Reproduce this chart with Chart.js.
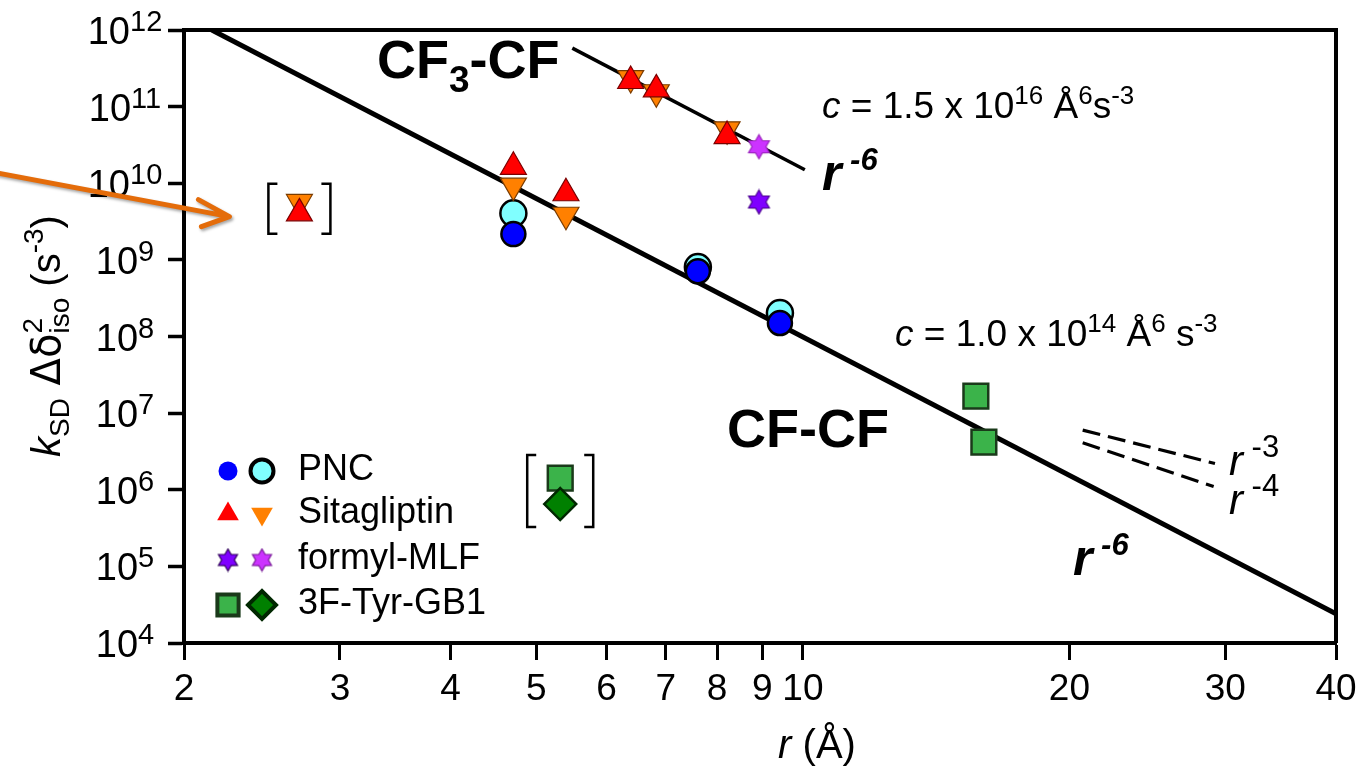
<!DOCTYPE html>
<html>
<head>
<meta charset="utf-8">
<script src="https://cdn.jsdelivr.net/npm/chart.js@4"></script>
<style>
  html, body { margin: 0; padding: 0; background: #fff; }
  #wrap { width: 1365px; height: 768px; }
</style>
</head>
<body>
<div id="wrap"><canvas id="chart" width="1365" height="768"></canvas></div>
<script>
// r (Å) and k_SD * dd_iso^2 (s^-3)
const pncBlueR = [4.71, 7.61, 9.42];
const pncBlueK = [2.17e9, 7.1e8, 1.5e8];
const pncCyanR = [4.71, 7.61, 9.42];
const pncCyanK = [4.05e9, 8.06e8, 2.02e8];
const sitaRedR = [2.70, 4.71, 5.40, 6.39, 6.83, 8.21];
const sitaRedK = [4.05e9, 1.64e10, 7.4e9, 2.16e11, 1.68e11, 4.13e10];
const sitaOrangeR = [2.70, 4.71, 5.40, 6.39, 6.83, 8.21];
const sitaOrangeK = [5.7e9, 9.3e9, 3.88e9, 2.36e11, 1.54e11, 5.06e10];
const mlfPurpleR = [8.92];
const mlfPurpleK = [5.7e9];
const mlfMagentaR = [8.92];
const mlfMagentaK = [3.0e10];
const gb1SquareR = [5.32, 15.68, 16.01];
const gb1SquareK = [1.42e6, 1.67e7, 4.18e6];
const gb1DiamondR = [5.32];
const gb1DiamondK = [6.5e5];

// guide lines (end points)
const cfcfLineR = [2.15, 40];
const cfcfLineK = [1.0e12, 2.4e4];
const cf3LineR = [5.49, 10.05];
const cf3LineK = [5.8e11, 1.5e10];
const r3LineR = [20.7, 29.2];
const r3LineK = [6.0e6, 2.2e6];
const r4LineR = [20.7, 29.1];
const r4LineK = [4.1e6, 1.1e6];

const xTicks = [2, 3, 4, 5, 6, 7, 8, 9, 10, 20, 30, 40];
const yTickExps = [4, 5, 6, 7, 8, 9, 10, 11, 12];
const legendNames = ['PNC', 'Sitagliptin', 'formyl-MLF', '3F-Tyr-GB1'];

const FONT = '"Liberation Sans", Arial, Helvetica, sans-serif';

function pts(xs, ys) {
    return xs.map(function(x, i) { return { x: x, y: ys[i] }; });
}

// six pointed star as an image point style
function makeStar(fill, stroke, size) {
    const c = document.createElement('canvas');
    c.width = size; c.height = size;
    const g = c.getContext('2d');
    const cx = size / 2, cy = size / 2, R = size / 2 - 1.5, r = R * 0.58;
    g.beginPath();
    for (let i = 0; i < 12; i++) {
        const a = -Math.PI / 2 + i * Math.PI / 6;
        const rr = i % 2 === 0 ? R : r;
        const px = cx + rr * Math.cos(a), py = cy + rr * Math.sin(a);
        if (i === 0) g.moveTo(px, py); else g.lineTo(px, py);
    }
    g.closePath();
    g.fillStyle = fill;
    g.fill();
    g.lineWidth = 1.2;
    g.strokeStyle = stroke;
    g.stroke();
    return c;
}

const starPurple = makeStar('#7F00FF', '#4B0090', 27);
const starMagenta = makeStar('#CC33FF', '#9922BB', 27);
const starPurpleSm = makeStar('#7F00FF', '#30005A', 25);
const starMagentaSm = makeStar('#CC33FF', '#7A1C99', 25);

const styles = {
    blue:    { pointStyle: 'circle', radius: 12, bg: '#0000FF', border: '#000', bw: 2.5, rot: 0 },
    cyan:    { pointStyle: 'circle', radius: 13, bg: '#80FFFF', border: '#000', bw: 2.5, rot: 0 },
    red:     { pointStyle: 'triangle', radius: 15, bg: '#FF0000', border: '#7A0000', bw: 1.2, rot: 0 },
    orange:  { pointStyle: 'triangle', radius: 15, bg: '#FF8000', border: '#7A3C00', bw: 1.2, rot: 180 },
    purple:  { pointStyle: starPurple, radius: 13, bg: '#7F00FF', border: '#000', bw: 0, rot: 0 },
    magenta: { pointStyle: starMagenta, radius: 13, bg: '#CC33FF', border: '#000', bw: 0, rot: 0 },
    square:  { pointStyle: 'rect', radius: 17.5, bg: '#3BB34A', border: '#1A3A1A', bw: 2.5, rot: 0 },
    diamond: { pointStyle: 'rectRot', radius: 16, bg: '#008000', border: '#002800', bw: 2.5, rot: 0 }
};

function scatterSet(label, xs, ys, s) {
    return {
        label: label,
        data: pts(xs, ys),
        showLine: false,
        pointStyle: s.pointStyle,
        pointRadius: s.radius,
        pointHoverRadius: s.radius,
        pointRotation: s.rot,
        backgroundColor: s.bg,
        borderColor: s.border,
        borderWidth: s.bw
    };
}

function lineSet(label, xs, ys, width, dash) {
    return {
        label: label,
        data: pts(xs, ys),
        showLine: true,
        pointRadius: 0,
        borderColor: '#000',
        borderWidth: width,
        borderDash: dash || [],
        fill: false
    };
}

// draws pieces of text one after another: [text, font, dy]
function runs(ctx, parts, x, y, align) {
    let total = 0;
    parts.forEach(function(p) { ctx.font = p[1]; total += ctx.measureText(p[0]).width; });
    let cx = x;
    if (align === 'center') cx = x - total / 2;
    if (align === 'right') cx = x - total;
    ctx.textAlign = 'left';
    ctx.textBaseline = 'alphabetic';
    parts.forEach(function(p) {
        ctx.font = p[1];
        ctx.fillText(p[0], cx, y + (p[2] || 0));
        cx += ctx.measureText(p[0]).width;
    });
    return total;
}

function marker(ctx, s, x, y, radius, bw) {
    ctx.save();
    ctx.fillStyle = s.bg;
    ctx.strokeStyle = s.border;
    const opts = { pointStyle: s.pointStyle, rotation: s.rot, radius: radius, borderWidth: bw };
    if (Chart.helpers && Chart.helpers.drawPoint) {
        Chart.helpers.drawPoint(ctx, opts, x, y);
    }
    ctx.restore();
}

function bracket(ctx, cx, cy, hw, hh, arm) {
    ctx.save();
    ctx.strokeStyle = '#000';
    ctx.lineWidth = 2.5;
    ctx.beginPath();
    ctx.moveTo(cx - hw + arm, cy - hh);
    ctx.lineTo(cx - hw, cy - hh);
    ctx.lineTo(cx - hw, cy + hh);
    ctx.lineTo(cx - hw + arm, cy + hh);
    ctx.moveTo(cx + hw - arm, cy - hh);
    ctx.lineTo(cx + hw, cy - hh);
    ctx.lineTo(cx + hw, cy + hh);
    ctx.lineTo(cx + hw - arm, cy + hh);
    ctx.stroke();
    ctx.restore();
}

const decorations = {
    id: 'decorations',
    afterDraw: function(chart) {
        const ctx = chart.ctx;
        const a = chart.chartArea;
        const xs = chart.scales.x, ys = chart.scales.y;
        ctx.save();
        ctx.fillStyle = '#000';

        // frame on top and right
        ctx.strokeStyle = '#000';
        ctx.lineWidth = 4;
        ctx.beginPath();
        ctx.moveTo(a.left - 2, a.top);
        ctx.lineTo(a.right, a.top);
        ctx.lineTo(a.right, a.bottom);
        ctx.stroke();

        // y tick labels 10^n
        yTickExps.forEach(function(e) {
            const py = ys.getPixelForValue(Math.pow(10, e));
            ctx.font = '38px ' + FONT;
            const w1 = ctx.measureText('10').width;
            ctx.font = '29px ' + FONT;
            const w2 = ctx.measureText(String(e)).width;
            const x0 = 125 - (w1 + w2) / 2;
            runs(ctx, [['10', '38px ' + FONT, 0], [String(e), '29px ' + FONT, -13]], x0, py + 14, 'left');
        });

        // axis titles
        runs(ctx, [['r', 'italic 40px ' + FONT, 0], [' (Å)', '40px ' + FONT, 0]], 817, 758, 'center');

        ctx.save();
        ctx.translate(60, 317);
        ctx.rotate(-Math.PI / 2);
        const big = '40px ' + FONT;
        const small = '28px ' + FONT;
        const greek = '40px "DejaVu Sans", ' + FONT;
        runs(ctx, [
            ['k', 'italic 40px ' + FONT, 0],
            ['SD', small, 9],
            [' Δδ', greek, 0],
            ['2', small, -18]
        ], -140, 0, 'left');
        ctx.font = 'italic 40px ' + FONT;
        let w = ctx.measureText('k').width;
        ctx.font = small;
        w += ctx.measureText('SD').width;
        ctx.font = greek;
        w += ctx.measureText(' Δδ').width;
        runs(ctx, [
            ['iso', small, 9],
            [' (s', big, 0],
            ['-3', small, -17],
            [')', big, 0]
        ], -140 + w, 0, 'left');
        ctx.restore();

        // curve labels
        runs(ctx, [['CF', 'bold 54px ' + FONT, 0], ['3', 'bold 37px ' + FONT, 14], ['-CF', 'bold 54px ' + FONT, 0]], 377, 78, 'left');
        runs(ctx, [['CF-CF', 'bold 54px ' + FONT, 0]], 727, 447, 'left');
        runs(ctx, [['r', 'italic bold 50px ' + FONT, 0], [' -6', 'italic bold 31px ' + FONT, -20]], 822, 190, 'left');
        runs(ctx, [['r', 'italic bold 50px ' + FONT, 0], [' -6', 'italic bold 31px ' + FONT, -20]], 1073, 575, 'left');
        runs(ctx, [['r', 'italic 42px ' + FONT, 0], [' -3', '31px ' + FONT, -18]], 1229, 475, 'left');
        runs(ctx, [['r', 'italic 42px ' + FONT, 0], [' -4', '31px ' + FONT, -18]], 1229, 514, 'left');
        runs(ctx, [
            ['c', 'italic 37px ' + FONT, 0], [' = 1.5 x 10', '37px ' + FONT, 0],
            ['16', '26px ' + FONT, -14], [' Å', '37px ' + FONT, 0], ['6', '26px ' + FONT, -14],
            ['s', '37px ' + FONT, 0], ['-3', '26px ' + FONT, -14]
        ], 822, 118, 'left');
        runs(ctx, [
            ['c', 'italic 37px ' + FONT, 0], [' = 1.0 x 10', '37px ' + FONT, 0],
            ['14', '26px ' + FONT, -14], [' Å', '37px ' + FONT, 0], ['6', '26px ' + FONT, -14],
            [' s', '37px ' + FONT, 0], ['-3', '26px ' + FONT, -14]
        ], 895, 346, 'left');

        // brackets round the two outlying groups
        const b1x = xs.getPixelForValue(sitaRedR[0]);
        const b1y = (ys.getPixelForValue(sitaRedK[0]) + ys.getPixelForValue(sitaOrangeK[0])) / 2;
        bracket(ctx, b1x, b1y + 1, 31, 25, 9);
        const b2x = xs.getPixelForValue(gb1SquareR[0]);
        const b2y = (ys.getPixelForValue(gb1SquareK[0]) + ys.getPixelForValue(gb1DiamondK[0])) / 2;
        bracket(ctx, b2x, b2y, 33, 36, 9);

        // orange arrow pointing at the bracket
        const tipX = b1x - 70, tipY = b1y + 9;
        ctx.save();
        ctx.strokeStyle = '#E46C0A';
        ctx.lineWidth = 5;
        ctx.lineCap = 'round';
        ctx.lineJoin = 'round';
        ctx.shadowColor = 'rgba(0,0,0,0.35)';
        ctx.shadowBlur = 3;
        ctx.shadowOffsetX = 1.5;
        ctx.shadowOffsetY = 2;
        ctx.beginPath();
        ctx.moveTo(-5, tipY - 44);
        ctx.lineTo(tipX, tipY);
        ctx.moveTo(tipX - 31, tipY - 17);
        ctx.lineTo(tipX, tipY);
        ctx.lineTo(tipX - 28, tipY + 10);
        ctx.stroke();
        ctx.restore();

        // legend
        const rows = [468, 511, 557, 602];
        const legendMarks = [
            [styles.blue, 9.5, 0, styles.cyan, 11.5, 2.5],
            [styles.red, 12.5, 0, styles.orange, 12.5, 0],
            [{ pointStyle: starPurpleSm, rot: 0, bg: '#000', border: '#000' }, 12, 0,
             { pointStyle: starMagentaSm, rot: 0, bg: '#000', border: '#000' }, 12, 0],
            [styles.square, 15, 2.5, styles.diamond, 14, 2.5]
        ];
        legendNames.forEach(function(name, i) {
            const m = legendMarks[i];
            marker(ctx, m[0], 228, rows[i] + 3, m[1], m[2]);
            marker(ctx, m[3], 262, rows[i] + 3, m[4], m[5]);
            ctx.fillStyle = '#000';
            runs(ctx, [[name, '36px ' + FONT, 0]], 298, rows[i] + 12, 'left');
        });

        ctx.restore();
    }
};

const datasets = [
    scatterSet('Sitagliptin a', sitaRedR, sitaRedK, styles.red),
    scatterSet('Sitagliptin b', sitaOrangeR, sitaOrangeK, styles.orange),
    scatterSet('PNC a', pncBlueR, pncBlueK, styles.blue),
    scatterSet('PNC b', pncCyanR, pncCyanK, styles.cyan),
    scatterSet('formyl-MLF a', mlfPurpleR, mlfPurpleK, styles.purple),
    scatterSet('formyl-MLF b', mlfMagentaR, mlfMagentaK, styles.magenta),
    scatterSet('3F-Tyr-GB1 b', gb1DiamondR, gb1DiamondK, styles.diamond),
    scatterSet('3F-Tyr-GB1 a', gb1SquareR, gb1SquareK, styles.square),
    lineSet('CF-CF r^-6', cfcfLineR, cfcfLineK, 5),
    lineSet('CF3-CF r^-6', cf3LineR, cf3LineK, 3.5),
    lineSet('r^-3', r3LineR, r3LineK, 3.2, [18, 8]),
    lineSet('r^-4', r4LineR, r4LineK, 3.2, [18, 8])
];

new Chart(document.getElementById('chart'), {
    type: 'scatter',
    data: { datasets: datasets },
    options: {
        responsive: false,
        animation: false,
        layout: { padding: { top: 30, right: 29, left: 0, bottom: 0 } },
        plugins: {
            legend: { display: false },
            tooltip: { enabled: false }
        },
        scales: {
            x: {
                type: 'logarithmic',
                min: 2,
                max: 40,
                afterBuildTicks: function(scale) {
                    scale.ticks = xTicks.map(function(v) { return { value: v }; });
                },
                afterFit: function(scale) { scale.height = 125; },
                border: { display: true, color: '#000', width: 4 },
                grid: { drawOnChartArea: false, drawTicks: true, tickLength: 17, tickWidth: 3, tickColor: '#000' },
                ticks: {
                    color: '#000',
                    padding: 8,
                    autoSkip: false,
                    maxRotation: 0,
                    font: { family: FONT, size: 37 },
                    callback: function(v) { return String(v); }
                }
            },
            y: {
                type: 'logarithmic',
                min: 1e4,
                max: 1e12,
                afterBuildTicks: function(scale) {
                    scale.ticks = yTickExps.map(function(e) { return { value: Math.pow(10, e) }; });
                },
                afterFit: function(scale) { scale.width = 184; },
                border: { display: true, color: '#000', width: 4 },
                grid: { drawOnChartArea: false, drawTicks: true, tickLength: 16, tickWidth: 3.5, tickColor: '#000' },
                ticks: {
                    color: '#000',
                    callback: function() { return ''; }
                }
            }
        }
    },
    plugins: [decorations]
});
</script>
</body>
</html>
